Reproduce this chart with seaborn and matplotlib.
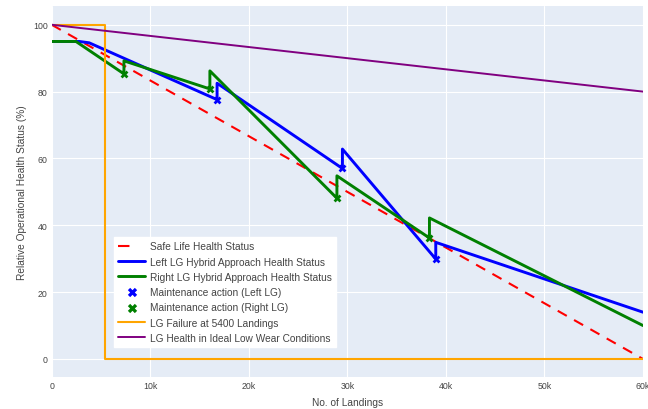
import matplotlib
matplotlib.use("Agg")
import matplotlib.pyplot as plt
import seaborn as sns

# values
safe_x = [0, 60000]
safe_y = [100, 0]

left_x = [0, 2800, 3800, 16780, 16780, 29500, 29500, 38970, 38970, 60000]
left_y = [95, 95, 94.6, 77.6, 82.5, 57.0, 62.8, 29.9, 34.9, 14.0]

right_x = [0, 2460, 7330, 7330, 16050, 16050, 28940, 28940, 38330, 38330, 60000]
right_y = [95, 95, 85.3, 89.2, 80.8, 86.2, 48.1, 54.8, 36.2, 42.2, 10.0]

left_maint_x = [16780, 29500, 38970]
left_maint_y = [77.6, 57.0, 29.9]
right_maint_x = [7330, 16050, 28940, 38330]
right_maint_y = [85.3, 80.8, 48.1, 36.2]

failure_x = [0, 5400, 5400, 60000]
failure_y = [100, 100, 0, 0]

ideal_x = [0, 60000]
ideal_y = [100, 80]

x_ticks = [0, 10000, 20000, 30000, 40000, 50000, 60000]
x_tick_labels = ["0", "10k", "20k", "30k", "40k", "50k", "60k"]
y_ticks = [0, 20, 40, 60, 80, 100]


def main():
    sns.set_theme(style="darkgrid", rc={
        "axes.facecolor": "#E5ECF6",
        "grid.color": "white",
        "grid.linewidth": 0.8,
    })
    plt.rcParams['font.family'] = ['Liberation Sans', 'DejaVu Sans']

    fig = plt.figure(figsize=(6.48, 4.10), dpi=100)
    fig.subplots_adjust(left=0.0798, right=0.9923, top=0.982, bottom=0.0774)
    ax = fig.add_subplot(111)

    sns.lineplot(x=safe_x, y=safe_y, ax=ax, color="red", linewidth=1.5,
                 linestyle="--", dashes=False, label="Safe Life Health Status",
                 estimator=None, sort=False)
    ax.lines[-1].set_dashes((5, 4))
    sns.lineplot(x=left_x, y=left_y, ax=ax, color="blue", linewidth=2.1,
                 label="Left LG Hybrid Approach Health Status",
                 estimator=None, sort=False)
    sns.lineplot(x=right_x, y=right_y, ax=ax, color="green", linewidth=2.1,
                 label="Right LG Hybrid Approach Health Status",
                 estimator=None, sort=False)
    sns.scatterplot(x=left_maint_x, y=left_maint_y, ax=ax, color="blue",
                    marker="X", s=32, linewidth=0, zorder=5,
                    label="Maintenance action (Left LG)")
    sns.scatterplot(x=right_maint_x, y=right_maint_y, ax=ax, color="green",
                    marker="X", s=32, linewidth=0, zorder=5,
                    label="Maintenance action (Right LG)")
    sns.lineplot(x=failure_x, y=failure_y, ax=ax, color="orange", linewidth=1.5,
                 label="LG Failure at 5400 Landings",
                 estimator=None, sort=False)
    sns.lineplot(x=ideal_x, y=ideal_y, ax=ax, color="purple", linewidth=1.4,
                 label="LG Health in Ideal Low Wear Conditions",
                 estimator=None, sort=False)

    ax.set_xlim(0, 60000)
    ax.set_ylim(-5.47, 105.5)
    ax.set_xticks(x_ticks)
    ax.set_xticklabels(x_tick_labels)
    ax.set_yticks(y_ticks)
    ax.tick_params(axis="both", length=0, labelsize=6.3, labelcolor="#444444", pad=3)
    ax.set_xlabel("No. of Landings", fontsize=7.3, color="#444444", labelpad=5)
    ax.set_ylabel("Relative Operational Health Status (%)", fontsize=7.3,
                  color="#444444", labelpad=4)
    for spine in ax.spines.values():
        spine.set_visible(False)

    leg = ax.legend(loc="upper left", bbox_to_anchor=(0.105, 0.379),
                    fontsize=7.3, frameon=True, facecolor="white",
                    edgecolor="white", fancybox=False, framealpha=1,
                    borderaxespad=0, handlelength=2.6, handletextpad=0.5,
                    labelspacing=0.52, borderpad=0.45)
    for text in leg.get_texts():
        text.set_color("#444444")
    # plotly shows a single short dash for the dashed series in the legend
    leg.get_lines()[0].set_dashes((5.5, 20))
    for handle in leg.legend_handles[3:5]:
        handle.set_sizes([45])

    fig.savefig("out.png", dpi=100)


if __name__ == "__main__":
    main()
